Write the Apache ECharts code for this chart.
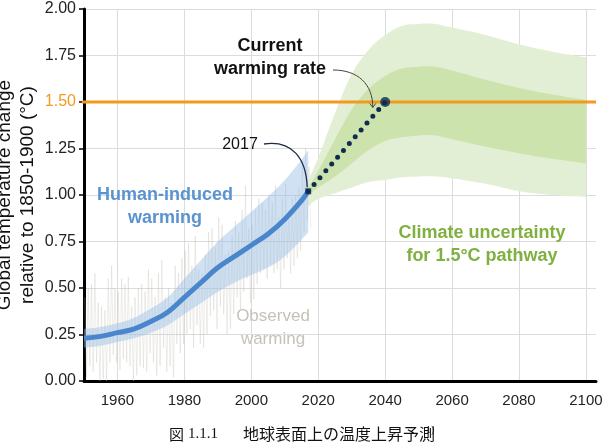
<!DOCTYPE html>
<html>
<head>
<meta charset="utf-8">
<script src="https://cdn.jsdelivr.net/npm/echarts@6/dist/echarts.min.js"></script>
<style>
  html, body { margin: 0; padding: 0; background: #fff; }
  #chart { width: 603px; height: 445px; }
</style>
</head>
<body>
<div id="chart"></div>
<script>
var FONT = '"Liberation Sans", Arial, sans-serif'

// observed warming, two readings a year (high, low) from 1950 to 2017
var obsStart = 1950
var observed = [
  0.45, 0.02, 0.50, 0.08, 0.52, 0.05, 0.58, 0.10, 0.42, 0.00,
  0.40, 0.01, 0.38, 0.00, 0.55, 0.10, 0.62, 0.14, 0.50, 0.10,
  0.48, 0.06, 0.55, 0.12, 0.52, 0.10, 0.56, 0.08, 0.40, 0.00,
  0.45, 0.03, 0.50, 0.08, 0.52, 0.07, 0.48, 0.05, 0.60, 0.15,
  0.55, 0.10, 0.45, 0.03, 0.58, 0.08, 0.65, 0.18, 0.45, 0.05,
  0.50, 0.08, 0.42, 0.02, 0.62, 0.20, 0.58, 0.15, 0.66, 0.20,
  0.70, 0.25, 0.74, 0.28, 0.62, 0.18, 0.78, 0.30, 0.60, 0.20,
  0.58, 0.18, 0.68, 0.25, 0.80, 0.35, 0.82, 0.38, 0.72, 0.28,
  0.88, 0.40, 0.84, 0.36, 0.68, 0.25, 0.70, 0.28, 0.78, 0.36,
  0.86, 0.45, 0.80, 0.38, 0.92, 0.48, 1.05, 0.55, 0.82, 0.42,
  0.84, 0.44, 0.92, 0.52, 0.98, 0.58, 0.96, 0.60, 0.92, 0.55,
  1.00, 0.62, 0.96, 0.58, 1.05, 0.60, 0.88, 0.50, 0.98, 0.60,
  1.06, 0.66, 0.92, 0.58, 0.98, 0.62, 1.00, 0.66, 1.04, 0.70,
  1.18, 0.80, 1.25, 0.86, 1.15, 0.82
]

// human-induced warming: central estimate and likely range
var humanYears = [1950, 1955, 1960, 1965, 1970, 1975, 1980, 1985, 1990, 1995, 2000, 2005, 2010, 2015, 2017]
var humanMid = [0.23, 0.24, 0.26, 0.28, 0.32, 0.37, 0.45, 0.53, 0.61, 0.67, 0.73, 0.79, 0.87, 0.97, 1.02]
var humanHi = [0.28, 0.29, 0.31, 0.34, 0.39, 0.45, 0.55, 0.65, 0.75, 0.83, 0.91, 0.99, 1.08, 1.19, 1.24]
var humanLo = [0.18, 0.19, 0.21, 0.23, 0.26, 0.30, 0.36, 0.42, 0.48, 0.53, 0.57, 0.61, 0.67, 0.76, 0.80]

// climate uncertainty for the 1.5°C pathway
var pathYears = [2017, 2020, 2025, 2030, 2035, 2040, 2045, 2050, 2055, 2060, 2070, 2080, 2090, 2100]
var outerHi = [1.08, 1.20, 1.44, 1.65, 1.78, 1.86, 1.91, 1.92, 1.92, 1.90, 1.86, 1.81, 1.77, 1.74]
var innerHi = [1.04, 1.13, 1.30, 1.46, 1.57, 1.64, 1.68, 1.69, 1.69, 1.67, 1.62, 1.575, 1.54, 1.51]
var innerLo = [1.00, 1.04, 1.10, 1.17, 1.24, 1.29, 1.31, 1.32, 1.32, 1.30, 1.26, 1.225, 1.195, 1.17]
var outerLo = [0.94, 0.98, 1.01, 1.04, 1.07, 1.08, 1.095, 1.10, 1.10, 1.09, 1.06, 1.02, 1.00, 0.99]

// current warming rate, extended from 2017 to 1.5°C
var rateYears = [2017, 2040]
var rateValues = [1.02, 1.50]
var target = 1.5

var orange = '#f39a1e'
var navy = '#0f2b50'

function pairs (xs, ys) {
  return xs.map(function (x, i) { return [x, ys[i]] })
}

// smooth path through pixel points (catmull-rom turned into beziers)
function smoothPath (pts, moveFirst) {
  var d = (moveFirst ? 'M' : 'L') + pts[0][0] + ' ' + pts[0][1]
  for (var i = 0; i < pts.length - 1; i++) {
    var p0 = pts[Math.max(i - 1, 0)]
    var p1 = pts[i]
    var p2 = pts[i + 1]
    var p3 = pts[Math.min(i + 2, pts.length - 1)]
    var c1 = [p1[0] + (p2[0] - p0[0]) / 6, p1[1] + (p2[1] - p0[1]) / 6]
    var c2 = [p2[0] - (p3[0] - p1[0]) / 6, p2[1] - (p3[1] - p1[1]) / 6]
    d += 'C' + c1[0] + ' ' + c1[1] + ' ' + c2[0] + ' ' + c2[1] + ' ' + p2[0] + ' ' + p2[1]
  }
  return d
}

function band (name, xs, lo, hi, color, z) {
  return {
    type: 'custom', name: name, z: z, silent: true,
    data: xs.map(function (x, i) { return [x, lo[i], hi[i]] }),
    encode: { x: 0, y: [1, 2] },
    renderItem: function (params, api) {
      if (params.dataIndex !== 0) return null
      var top = xs.map(function (x, i) { return api.coord([x, hi[i]]) })
      var bot = xs.map(function (x, i) { return api.coord([x, lo[i]]) }).reverse()
      return {
        type: 'path',
        shape: { pathData: smoothPath(top, true) + smoothPath(bot, false) + 'Z' },
        style: { fill: color }
      }
    }
  }
}

var obsData = observed.map(function (v, i) { return [obsStart + 0.25 + i * 0.5, v] })

var series = [
  { type: 'line', name: 'observed', data: obsData, symbol: 'none', z: 1,
    lineStyle: { color: 'rgba(200,195,185,0.3)', width: 1 }, silent: true },
  band('outer', pathYears, outerLo, outerHi, '#e2efd4', 2),
  band('inner', pathYears, innerLo, innerHi, '#cde3ad', 2),
  band('human', humanYears, humanLo, humanHi, 'rgba(150,188,228,0.45)', 2),
  { type: 'line', name: 'human-mid', data: pairs(humanYears, humanMid), smooth: 0.4, symbol: 'none', z: 3,
    lineStyle: { color: '#4a86cc', width: 5 } },
  { type: 'line', name: 'target', data: [[1948.2, target], [2103, target]], symbol: 'none', clip: false,
    lineStyle: { color: orange, width: 3 }, z: 5 },
  { type: 'line', name: 'rate', data: pairs(rateYears, rateValues), symbol: 'none',
    lineStyle: { color: navy, width: 5, type: [0, 9], cap: 'round' }, z: 6 },
  { type: 'scatter', name: 'ends', z: 7,
    data: [
      { value: [rateYears[0], rateValues[0]], symbol: 'rect', symbolSize: 6 },
      { value: [rateYears[1], rateValues[1]], symbol: 'circle', symbolSize: 10 }
    ],
    itemStyle: { color: navy } }
]

var chart = echarts.init(document.getElementById('chart'), null, { renderer: 'canvas' })

chart.setOption({
  animation: false,
  backgroundColor: '#fff',
  grid: { left: 84, right: 7, top: 9, bottom: 64, containLabel: false, outerBoundsMode: 'none' },
  xAxis: {
    type: 'value', min: 1950, max: 2103, interval: 10,
    axisLine: { lineStyle: { color: '#000', width: 3 } },
    axisTick: { show: false },
    axisLabel: {
      margin: 12, color: '#222', fontSize: 15, fontFamily: FONT,
      formatter: function (v) { return v % 20 === 0 ? String(v) : '' }
    },
    splitLine: { show: true, lineStyle: { color: ['rgba(0,0,0,0)', '#dcdcdc'], width: 1 } }
  },
  yAxis: {
    type: 'value', min: 0, max: 2, interval: 0.25,
    name: 'Global temperature change\nrelative to 1850-1900 (°C)',
    nameLocation: 'middle', nameRotate: 90, nameGap: 45, nameMoveOverlap: false,
    nameTextStyle: { fontSize: 19, fontFamily: FONT, color: '#111', lineHeight: 23 },
    axisLine: { show: true, lineStyle: { color: '#000', width: 3 } },
    axisTick: { show: true, length: 5, lineStyle: { color: '#000', width: 1.5 } },
    axisLabel: {
      margin: 8, color: '#222', fontSize: 16, fontFamily: FONT,
      formatter: function (v) {
        var s = v.toFixed(2)
        return v === target ? '{o|' + s + '}' : s
      },
      rich: { o: { color: orange, fontSize: 16, fontFamily: FONT } }
    },
    splitLine: { lineStyle: { color: '#dcdcdc', width: 1 } }
  },
  series: series
})

// annotations, anchored on the data where they point
var p2017 = chart.convertToPixel({ gridIndex: 0 }, [rateYears[0], rateValues[0]])
var pRate = chart.convertToPixel({ gridIndex: 0 }, [2036.3, 1.46])

function label (text, x, y, color, size, bold) {
  return {
    type: 'text', z: 100,
    style: {
      text: text, x: x, y: y, fill: color,
      font: (bold ? 'bold ' : '') + size + 'px ' + FONT,
      textAlign: 'center', textVerticalAlign: 'middle', lineHeight: 23
    }
  }
}

chart.setOption({
  graphic: [
    label('Current\nwarming rate', 270, 58, '#111', 18, true),
    label('2017', 240, 145, '#111', 16, false),
    label('Human-induced\nwarming', 165, 207, '#5b93d0', 18, true),
    label('Observed\nwarming', 273, 328, '#c6c2b8', 17, false),
    label('Climate uncertainty\nfor 1.5°C pathway', 482, 245, '#80b040', 18, true),
    {
      type: 'bezierCurve', z: 100,
      shape: { x1: 264, y1: 144, cpx1: 292, cpy1: 140, cpx2: p2017[0] - 2, cpy2: 158, x2: p2017[0] - 1, y2: p2017[1] - 4 },
      style: { stroke: '#1d2b40', lineWidth: 1.3, fill: null }
    },
    {
      type: 'bezierCurve', z: 100,
      shape: { x1: 333, y1: 70, cpx1: 358, cpy1: 70, cpx2: pRate[0], cpy2: 84, x2: pRate[0], y2: pRate[1] - 2 },
      style: { stroke: '#444', lineWidth: 1, fill: null }
    },
    {
      type: 'polyline', z: 100,
      shape: { points: [[pRate[0] - 3, pRate[1] - 6], [pRate[0], pRate[1] - 2], [pRate[0] + 3, pRate[1] - 6]] },
      style: { stroke: '#444', lineWidth: 1, fill: null }
    },
    {
      type: 'text', z: 100,
      style: { text: '図', x: 169, y: 434, fill: '#111', font: '15px "Noto Sans CJK JP"', textVerticalAlign: 'middle' }
    },
    {
      type: 'text', z: 100,
      style: { text: '1.1.1', x: 188, y: 434, fill: '#111', font: '15px "Liberation Serif", serif', textVerticalAlign: 'middle' }
    },
    {
      type: 'text', z: 100,
      style: { text: '地球表面上の温度上昇予測', x: 243, y: 434, fill: '#111', font: '16px "Noto Sans CJK JP"', textVerticalAlign: 'middle' }
    },
    {
      type: 'text', z: 100,
      style: { text: '1)', x: 426, y: 430, fill: '#111', font: '10px "Liberation Serif", serif', textVerticalAlign: 'middle' }
    }
  ]
})
</script>
</body>
</html>
